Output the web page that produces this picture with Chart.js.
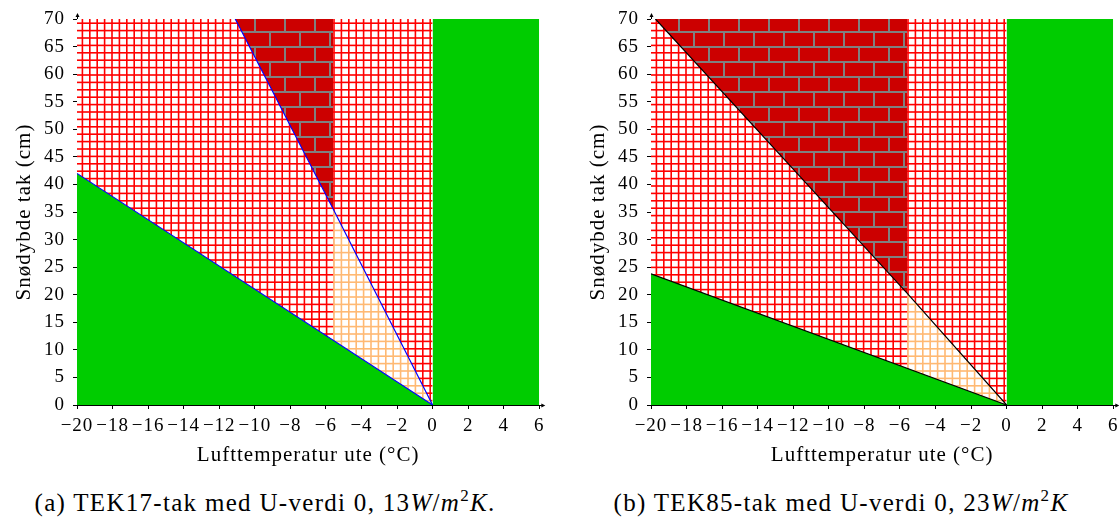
<!DOCTYPE html>
<html><head><meta charset="utf-8">
<script src="https://cdn.jsdelivr.net/npm/chart.js@4/dist/chart.umd.min.js"></script>
<style>
html,body{margin:0;padding:0;background:#fff;width:1119px;height:518px;overflow:hidden;position:relative}
canvas{position:absolute;top:0}
#cA{left:0}
#cB{left:574px}
.cap{position:absolute;top:490px;width:560px;text-align:center;font-family:'Liberation Serif',serif;font-size:25px;line-height:25px;letter-spacing:1.3px;color:#000;white-space:nowrap}
.cap sup{font-size:17px;line-height:0;vertical-align:0;position:relative;top:-10px}
</style></head><body>
<canvas id="cA" width="560" height="470"></canvas>
<canvas id="cB" width="560" height="470"></canvas>
<div class="cap" style="left:-15px">(a) TEK17-tak med U-verdi 0, 13<i>W</i>/<i>m</i><sup>2</sup><i>K</i>.</div>
<div class="cap" style="left:561px">(b) TEK85-tak med U-verdi 0, 23<i>W</i>/<i>m</i><sup>2</sup><i>K</i></div>
<script>
// ---- data ----
const xTicks = [-20,-18,-16,-14,-12,-10,-8,-6,-4,-2,0,2,4,6];
const xTickLabels = ['−20','−18','−16','−14','−12','−10','−8','−6','−4','−2','0','2','4','6'];
const yTicks = [0,5,10,15,20,25,30,35,40,45,50,55,60,65,70];
const yTickLabels = ['0','5','10','15','20','25','30','35','40','45','50','55','60','65','70'];
const xRange = [-20, 6];
const yRange = [0, 70];
const freezeT = 0;
const brickLimitT = -5.6;
const tek17Low = [[-20, 42], [0, 0]];
const tek17Steep = [[-11.1, 70], [-5.6, 35.6], [0, 0]];
const tek85Low = [[-20, 23.8], [0, 0]];
const tek85Steep = [[-19.75, 70], [-5.6, 20.3], [0, 0]];

// ---- patterns ----
function gridPattern(color, bg) {
  const step = 7.4, n = 5, size = 37;
  const c = document.createElement('canvas'); c.width = size; c.height = size;
  const g = c.getContext('2d');
  if (bg) { g.fillStyle = bg; g.fillRect(0, 0, size, size); }
  g.fillStyle = color;
  for (let k = 0; k < n; k++) {
    const p = k * step + 1;
    g.fillRect(p - 0.8, 0, 1.6, size);
    g.fillRect(0, p - 0.8, size, 1.6);
  }
  return g.createPattern(c, 'repeat');
}
function brickPattern() {
  const c = document.createElement('canvas'); c.width = 30; c.height = 30;
  const g = c.getContext('2d');
  g.fillStyle = '#808080'; g.fillRect(0, 0, 30, 30);
  g.fillStyle = '#cc0000';
  g.fillRect(1, 1, 28, 13);
  g.fillRect(16, 16, 14, 13);
  g.fillRect(0, 16, 14, 13);
  const p = g.createPattern(c, 'repeat');
  if (p.setTransform) p.setTransform(new DOMMatrix([1, 0, 0, 1, 0, 2]));
  return p;
}
const redGrid = gridPattern('#ff0000', '#ffffff');
const orangeGrid = gridPattern('rgb(255,185,115)', '#ffffff');
const bricks = brickPattern();
const green = '#00cc00';

const textSpacing = {
  id: 'textSpacing',
  beforeUpdate(chart) { chart.ctx.letterSpacing = '1px'; },
  beforeDraw(chart) { chart.ctx.letterSpacing = '1px'; }
};

const axisArrows = {
  id: 'axisArrows',
  afterDraw(chart) {
    const {ctx, chartArea: {left, top, right, bottom}} = chart;
    ctx.save();
    ctx.strokeStyle = '#000'; ctx.fillStyle = '#000'; ctx.lineWidth = 1;
    const lx = Math.round(left) + 0.5, by = Math.round(bottom) + 0.5;
    ctx.beginPath(); ctx.moveTo(lx, top); ctx.lineTo(lx, top - 4); ctx.stroke();
    ctx.beginPath(); ctx.moveTo(lx, top - 6); ctx.lineTo(lx - 2, top - 2); ctx.lineTo(lx + 2, top - 2); ctx.closePath(); ctx.fill();
    ctx.beginPath(); ctx.moveTo(right, by); ctx.lineTo(right + 4, by); ctx.stroke();
    ctx.beginPath(); ctx.moveTo(right + 6, by); ctx.lineTo(right + 2, by - 2); ctx.lineTo(right + 2, by + 2); ctx.closePath(); ctx.fill();
    ctx.restore();
  }
};

const family = "'Liberation Serif', serif";

function makeChart(id, low, steep, lineColor) {
  const pts = a => a.map(([x, y]) => ({x, y}));
  const upper = steep.filter(p => p[0] <= brickLimitT);
  const lower = steep.filter(p => p[0] >= brickLimitT);
  const none = 'rgba(0,0,0,0)';
  const area = (data, fill, bg, order) => ({data: pts(data), fill, backgroundColor: bg, borderColor: none, borderWidth: 0, pointRadius: 0, order});
  const datasets = [
    area([[xRange[0], yRange[1]], [freezeT, yRange[1]]], 'origin', redGrid, 10),
    area(lower, 'origin', orangeGrid, 9),
    area(upper, 'end', bricks, 8),
    area(low, 'origin', green, 7),
    area([[freezeT, yRange[1]], [xRange[1], yRange[1]]], 'origin', green, 6),
    {data: pts(low), fill: false, borderColor: lineColor, borderWidth: 1.2, pointRadius: 0, order: 1},
    {data: pts(steep), fill: false, borderColor: lineColor, borderWidth: 1.2, pointRadius: 0, order: 1}
  ];
  return new Chart(document.getElementById(id), {
    type: 'line',
    data: {datasets},
    plugins: [textSpacing, axisArrows],
    options: {
      responsive: false, animation: false, devicePixelRatio: 1,
      layout: {padding: {left: 0, top: 19, right: 20.7, bottom: 0}},
      plugins: {legend: {display: false}, tooltip: {enabled: false}},
      scales: {
        x: {
          type: 'linear', min: xRange[0], max: xRange[1], z: 1,
          afterBuildTicks: s => { s.ticks = xTicks.map(v => ({value: v})); },
          afterFit: s => { s.height = 65; s.paddingLeft = 0; s.paddingRight = 0; },
          ticks: {autoSkip: false, maxRotation: 0, minRotation: 0, padding: 5.6, color: '#000',
            font: {family, size: 19}, callback: v => xTickLabels[xTicks.indexOf(v)]},
          grid: {drawOnChartArea: false, drawTicks: true, tickLength: 4, color: '#000', lineWidth: 1},
          border: {display: true, color: '#000', width: 1},
          title: {display: true, text: 'Lufttemperatur ute (°C)', color: '#000', font: {family, size: 21}, padding: {top: 0, bottom: 1.9}}
        },
        y: {
          type: 'linear', min: yRange[0], max: yRange[1], z: 1,
          afterBuildTicks: s => { s.ticks = yTicks.map(v => ({value: v})); },
          afterFit: s => { s.width = 77; s.paddingTop = 0; s.paddingBottom = 0; },
          ticks: {autoSkip: false, padding: 8, color: '#000', font: {family, size: 19},
            callback: v => yTickLabels[yTicks.indexOf(v)]},
          grid: {drawOnChartArea: false, drawTicks: true, tickLength: 4, color: '#000', lineWidth: 1},
          border: {display: true, color: '#000', width: 1},
          title: {display: true, text: 'Snødybde tak (cm)', color: '#000', font: {family, size: 21}, padding: {top: 11.4, bottom: 0}}
        }
      }
    }
  });
}
makeChart('cA', tek17Low, tek17Steep, '#0000ff');
makeChart('cB', tek85Low, tek85Steep, '#000000');
</script>
</body></html>
